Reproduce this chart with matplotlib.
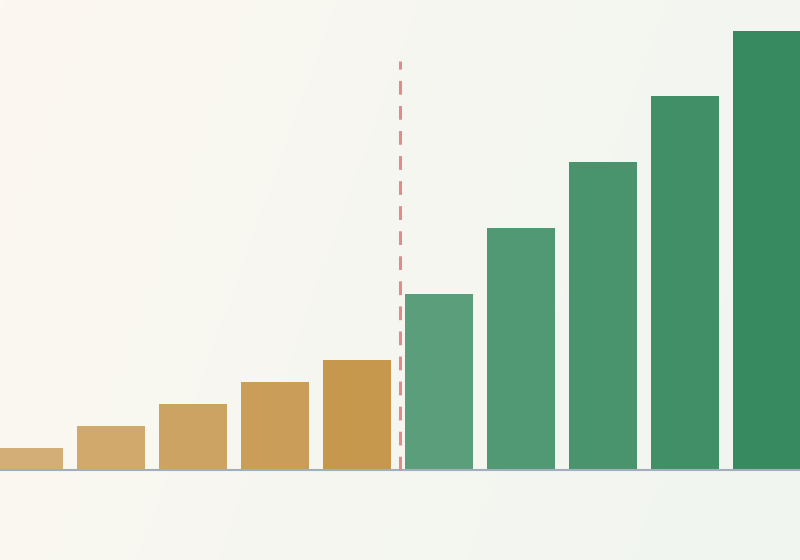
import numpy as np
import matplotlib.pyplot as plt
from matplotlib.colors import LinearSegmentedColormap, to_rgb

values = [1, 2, 3, 4, 5, 8, 11, 14, 17, 20]
split_at = 4.52

gold_start, gold_end = "#d4ae77", "#c6984e"
green_start, green_end = "#5a9e7b", "#378a5f"


def blend(c1, c2, t):
    a, b = np.array(to_rgb(c1)), np.array(to_rgb(c2))
    return tuple(a + (b - a) * t)


colors = [blend(gold_start, gold_end, i / 4) for i in range(5)] + \
         [blend(green_start, green_end, i / 4) for i in range(5)]

fig = plt.figure(figsize=(8, 5.6), dpi=100)

# background gradient
bg = fig.add_axes([0, 0, 1, 1], zorder=0)
bg_cmap = LinearSegmentedColormap.from_list("bg", ["#fcf8f0", "#f0f5f0"])
gx, gy = np.meshgrid(np.linspace(0, 1, 200), np.linspace(0, 1, 140))
bg.imshow(0.8 * gx + 0.2 * gy, cmap=bg_cmap, aspect="auto", extent=[0, 1, 0, 1])
bg.axis("off")

ax = fig.add_axes([0, 0, 1, 1], zorder=1)
ax.patch.set_alpha(0)
x = np.arange(len(values))
ax.bar(x, values, width=0.83, color=colors, zorder=2)
ax.axhline(0, color="#a3aebc", linewidth=1.5, zorder=3)
ax.vlines(split_at, 0, 18.6, colors="#e08c8c", linewidth=2.2,
          linestyles=(0, (4.5, 3.7)), zorder=4)

ax.set_xlim(-0.3537, 9.402)
ax.set_ylim(-4.123, 21.39)
ax.axis("off")

fig.savefig("out.png")
